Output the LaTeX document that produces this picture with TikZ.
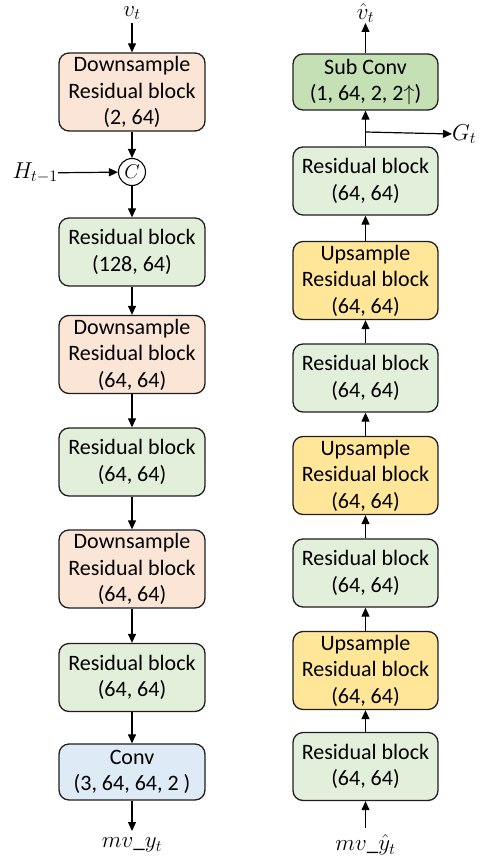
\documentclass[tikz,border=0pt]{standalone}
\usepackage{fix-cm}
\usepackage{fontspec}
\setmainfont{Carlito}
\usetikzlibrary{arrows.meta}
\definecolor{downc}{HTML}{FBE5D6}
\definecolor{resc}{HTML}{E2EFDA}
\definecolor{upc}{HTML}{FFE699}
\definecolor{convc}{HTML}{DEEBF7}
\definecolor{subc}{HTML}{C5E0B4}
\definecolor{edgec}{HTML}{1F1F1F}
\begin{document}
\begin{tikzpicture}[x=1pt,y=-1pt,
  blk/.style={draw=edgec,line width=1.3pt,rounded corners=10pt,minimum width=146pt,
    inner sep=0pt,align=center,font=\fontsize{22}{26.5}\selectfont},
  tall/.style={blk,minimum height=78pt},
  mid/.style={blk,minimum height=68pt},
  short/.style={blk,minimum height=56pt},
  lab/.style={inner sep=0pt,font=\fontsize{23}{27}\selectfont},
  arr/.style={line width=1.2pt,-{Triangle[length=9pt,width=8pt]}}]
\useasboundingbox (0,0) rectangle (482,859);
% left column
\node[lab] (vt) at (132,13) {$v_t$};
\node[tall,fill=downc] (d1) at (132,92) {Downsample\\Residual block\\(2, 64)};
\node[circle,draw=black,line width=1.1pt,minimum size=27pt,inner sep=0pt,font=\fontsize{20}{24}\selectfont] (cc) at (132,172) {$C$};
\node[lab,anchor=east] (h) at (58,173) {$H_{t-1}$};
\node[mid,fill=resc] (r1) at (132,252) {Residual block\\(128, 64)};
\node[tall,fill=downc] (d2) at (132,354.5) {Downsample\\Residual block\\(64, 64)};
\node[mid,fill=resc] (r2) at (132,462) {Residual block\\(64, 64)};
\node[tall,fill=downc] (d3) at (132,569) {Downsample\\Residual block\\(64, 64)};
\node[mid,fill=resc] (r3) at (132,677.5) {Residual block\\(64, 64)};
\node[short,fill=convc] (cv) at (132,772) {Conv\\(3, 64, 64, 2 )};
\node[lab] (my) at (132,845) {$mv\_y_t$};
\draw[arr] (132,23) -- (d1.north);
\draw[arr] (d1) -- (cc);
\draw[arr] (h) -- (cc);
\draw[arr] (cc) -- (r1);
\draw[arr] (r1) -- (d2);
\draw[arr] (d2) -- (r2);
\draw[arr] (r2) -- (d3);
\draw[arr] (d3) -- (r3);
\draw[arr] (r3) -- (cv);
\draw[arr] (cv.south) -- (132,831);
% right column
\node[lab] (vh) at (365.5,13) {$\hat{v}_t$};
\node[short,fill=subc,minimum width=145pt] (sc) at (365.5,82) {Sub Conv\\(1, 64, 2, 2$\uparrow$)};
\node[mid,fill=resc,minimum width=145pt] (ra) at (365.5,181) {Residual block\\(64, 64)};
\node[tall,fill=upc,minimum width=145pt] (ua) at (365.5,280.5) {Upsample\\Residual block\\(64, 64)};
\node[mid,fill=resc,minimum width=145pt] (rb) at (365.5,378) {Residual block\\(64, 64)};
\node[tall,fill=upc,minimum width=145pt] (ub) at (365.5,475.5) {Upsample\\Residual block\\(64, 64)};
\node[mid,fill=resc,minimum width=145pt] (rc) at (365.5,573) {Residual block\\(64, 64)};
\node[tall,fill=upc,minimum width=145pt] (uc) at (365.5,670.5) {Upsample\\Residual block\\(64, 64)};
\node[mid,fill=resc,minimum width=145pt] (rd) at (365.5,766.5) {Residual block\\(64, 64)};
\node[lab] (myh) at (365.5,845) {$mv\_\hat{y}_t$};
\node[lab,anchor=west] (gt) at (452,134) {$G_t$};
\coordinate (br) at (365.5,132);
\draw[arr] (sc.north) -- (365.5,23);
\draw[arr] (ra) -- (sc);
\draw[arr] (br) -- (gt.west);
\draw[arr] (ua) -- (ra);
\draw[arr] (rb) -- (ua);
\draw[arr] (ub) -- (rb);
\draw[arr] (rc) -- (ub);
\draw[arr] (uc) -- (rc);
\draw[arr] (rd) -- (uc);
\draw[arr] (365.5,828) -- (rd.south);
\end{tikzpicture}
\end{document}
